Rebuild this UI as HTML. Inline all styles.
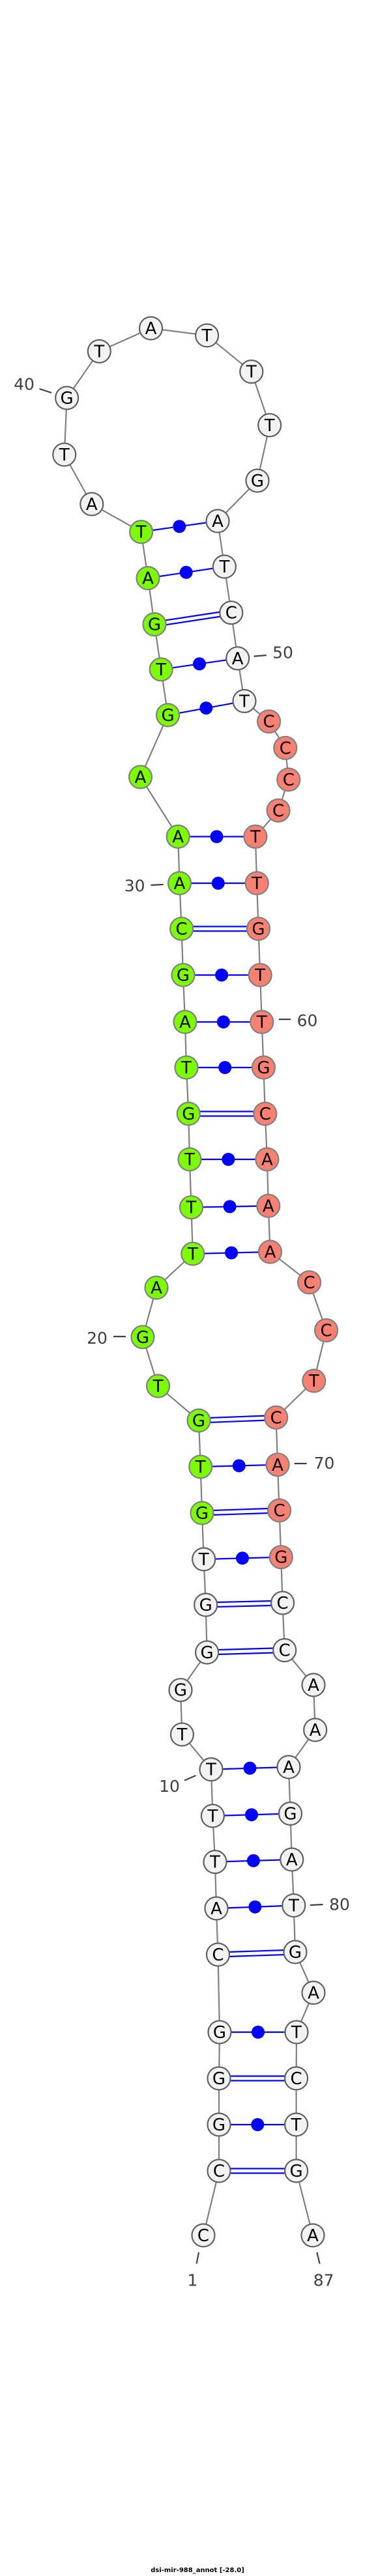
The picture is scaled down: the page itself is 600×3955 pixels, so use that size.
<!DOCTYPE html>
<html><head><meta charset="utf-8"><style>
html,body{margin:0;padding:0;background:#fff;}
svg{display:block;}
.n text{font-family:"DejaVu Sans","Liberation Sans",sans-serif;font-size:26px;text-anchor:middle;dominant-baseline:central;fill:#000;}
.lb{font-family:"DejaVu Sans","Liberation Sans",sans-serif;font-size:25px;fill:#404040;text-anchor:middle;dominant-baseline:central;}
</style></head><body>
<svg width="600" height="3955" viewBox="0 0 600 3955" xmlns="http://www.w3.org/2000/svg">
<polyline fill="none" stroke="#808080" stroke-width="2.2" points="312,3432 336,3333 336,3262 336,3191 337,3120 334.5,3001 332,2930 330,2858.6 326.4,2788 324,2716.6 279.4,2663 277,2594.7 317.6,2537 315.7,2464 312.7,2394 310,2323 307.7,2252 305,2181 242.6,2128 219,2052.8 240,1977 295.8,1925 293.5,1853.7 291,1780 289.3,1710 286,1639 284,1569 281,1497 278.6,1426 275.5,1356 273.2,1284.5 215.5,1193 257.6,1097.9 247.2,1027.8 237,958.6 227,887.6 216.6,816.6 140.8,774 98.7,698 102.6,611 152.3,539.4 231.5,504 317.6,515 385.8,570.6 413.7,652.8 395,738 334,800 344.4,870 354.8,940.7 364.7,1010.8 375,1076.4 412.6,1107.7 437.8,1148.3 442.8,1197 427.1,1244.3 391.9,1284.5 394.2,1356 396.5,1426 399.2,1497 401.8,1569 404.5,1639 406.8,1710 409.9,1780 411.8,1851.4 414.5,1922 474.6,1968.8 500.6,2042.5 481.8,2120 423.7,2176.4 426,2248.8 428.6,2319 431.3,2390.7 433.6,2461 436.7,2533.6 481,2587 483.7,2656 443,2713 445.5,2784.5 447.8,2855 450.8,2925.5 453,2997 481,3059.5 455,3120 454.6,3191 454.6,3262 454.6,3333 480,3432"/>
<g stroke="#0000ff" stroke-width="2.2" fill="none">
<!-- singles -->
<line x1="337" y1="3120" x2="455" y2="3120"/>
<line x1="336" y1="3262" x2="454.6" y2="3262"/>
<line x1="332" y1="2930" x2="450.8" y2="2925.5"/>
<line x1="330" y1="2858.6" x2="447.8" y2="2855"/>
<line x1="326.4" y1="2788" x2="445.5" y2="2784.5"/>
<line x1="324" y1="2716.6" x2="443" y2="2713"/>
<line x1="312.7" y1="2394" x2="431.3" y2="2390.7"/>
<line x1="307.7" y1="2252" x2="426" y2="2248.8"/>
<line x1="295.8" y1="1925" x2="414.5" y2="1922"/>
<line x1="293.5" y1="1853.7" x2="411.8" y2="1851.4"/>
<line x1="291" y1="1780" x2="409.9" y2="1780"/>
<line x1="286" y1="1639" x2="404.5" y2="1639"/>
<line x1="284" y1="1569" x2="401.8" y2="1569"/>
<line x1="281" y1="1497" x2="399.2" y2="1497"/>
<line x1="275.5" y1="1356" x2="394.2" y2="1356"/>
<line x1="273.2" y1="1284.5" x2="391.9" y2="1284.5"/>
<line x1="257.6" y1="1097.9" x2="375" y2="1076.4"/>
<line x1="247.2" y1="1027.8" x2="364.7" y2="1010.8"/>
<line x1="227" y1="887.6" x2="344.4" y2="870"/>
<line x1="216.6" y1="816.6" x2="334" y2="800"/>
<!-- doubles -->
<line x1="336" y1="3187.5" x2="454.6" y2="3187.5"/><line x1="336" y1="3194.5" x2="454.6" y2="3194.5"/>
<line x1="336" y1="3329.5" x2="454.6" y2="3329.5"/><line x1="336" y1="3336.5" x2="454.6" y2="3336.5"/>
<line x1="334.5" y1="2997.5" x2="453" y2="2993.5"/><line x1="334.5" y1="3004.5" x2="453" y2="3000.5"/>
<line x1="317.6" y1="2533.5" x2="436.7" y2="2530"/><line x1="317.6" y1="2540.5" x2="436.7" y2="2537"/>
<line x1="315.7" y1="2460.5" x2="433.6" y2="2457.5"/><line x1="315.7" y1="2467.5" x2="433.6" y2="2464.5"/>
<line x1="310" y1="2319.5" x2="428.6" y2="2315.5"/><line x1="310" y1="2326.5" x2="428.6" y2="2322.5"/>
<line x1="305" y1="2177.5" x2="423.7" y2="2173"/><line x1="305" y1="2184.5" x2="423.7" y2="2180"/>
<line x1="289.3" y1="1706.5" x2="406.8" y2="1706.5"/><line x1="289.3" y1="1713.5" x2="406.8" y2="1713.5"/>
<line x1="278.6" y1="1422.5" x2="396.5" y2="1422.5"/><line x1="278.6" y1="1429.5" x2="396.5" y2="1429.5"/>
<line x1="237" y1="955" x2="354.8" y2="937"/><line x1="237" y1="962" x2="354.8" y2="944"/>
</g>
<g fill="#0000ff">
<circle cx="396" cy="3120" r="10"/><circle cx="395.3" cy="3262" r="10"/>
<circle cx="391.4" cy="2927.7" r="10"/><circle cx="388.9" cy="2856.8" r="10"/>
<circle cx="386" cy="2786.2" r="10"/><circle cx="383.5" cy="2714.8" r="10"/>
<circle cx="372" cy="2392.3" r="10"/><circle cx="366.8" cy="2250.4" r="10"/>
<circle cx="355.1" cy="1923.5" r="10"/><circle cx="352.6" cy="1852.5" r="10"/>
<circle cx="350.4" cy="1780" r="10"/><circle cx="345.2" cy="1639" r="10"/>
<circle cx="342.9" cy="1569" r="10"/><circle cx="340.1" cy="1497" r="10"/>
<circle cx="334.8" cy="1356" r="10"/><circle cx="332.5" cy="1284.5" r="10"/>
<circle cx="316.3" cy="1087.1" r="10"/><circle cx="306" cy="1019.3" r="10"/>
<circle cx="285.7" cy="878.8" r="10"/><circle cx="275.3" cy="808.3" r="10"/>
</g>
<g class="n" stroke-width="2.2">
<g fill="#f2f2f2" stroke="#606060">
<circle cx="312" cy="3432" r="17.5"/><circle cx="336" cy="3333" r="17.5"/><circle cx="336" cy="3262" r="17.5"/><circle cx="336" cy="3191" r="17.5"/><circle cx="337" cy="3120" r="17.5"/><circle cx="334.5" cy="3001" r="17.5"/><circle cx="332" cy="2930" r="17.5"/><circle cx="330" cy="2858.6" r="17.5"/><circle cx="326.4" cy="2788" r="17.5"/><circle cx="324" cy="2716.6" r="17.5"/><circle cx="279.4" cy="2663" r="17.5"/><circle cx="277" cy="2594.7" r="17.5"/><circle cx="317.6" cy="2537" r="17.5"/><circle cx="315.7" cy="2464" r="17.5"/><circle cx="312.7" cy="2394" r="17.5"/>
<circle cx="140.8" cy="774" r="17.5"/><circle cx="98.7" cy="698" r="17.5"/><circle cx="102.6" cy="611" r="17.5"/><circle cx="152.3" cy="539.4" r="17.5"/><circle cx="231.5" cy="504" r="17.5"/><circle cx="317.6" cy="515" r="17.5"/><circle cx="385.8" cy="570.6" r="17.5"/><circle cx="413.7" cy="652.8" r="17.5"/><circle cx="395" cy="738" r="17.5"/><circle cx="334" cy="800" r="17.5"/><circle cx="344.4" cy="870" r="17.5"/><circle cx="354.8" cy="940.7" r="17.5"/><circle cx="364.7" cy="1010.8" r="17.5"/><circle cx="375" cy="1076.4" r="17.5"/>
<circle cx="433.6" cy="2461" r="17.5"/><circle cx="436.7" cy="2533.6" r="17.5"/><circle cx="481" cy="2587" r="17.5"/><circle cx="483.7" cy="2656" r="17.5"/><circle cx="443" cy="2713" r="17.5"/><circle cx="445.5" cy="2784.5" r="17.5"/><circle cx="447.8" cy="2855" r="17.5"/><circle cx="450.8" cy="2925.5" r="17.5"/><circle cx="453" cy="2997" r="17.5"/><circle cx="481" cy="3059.5" r="17.5"/><circle cx="455" cy="3120" r="17.5"/><circle cx="454.6" cy="3191" r="17.5"/><circle cx="454.6" cy="3262" r="17.5"/><circle cx="454.6" cy="3333" r="17.5"/><circle cx="480" cy="3432" r="17.5"/>
</g>
<g fill="#7cfc00" stroke="#808080">
<circle cx="310" cy="2323" r="17.5"/><circle cx="307.7" cy="2252" r="17.5"/><circle cx="305" cy="2181" r="17.5"/><circle cx="242.6" cy="2128" r="17.5"/><circle cx="219" cy="2052.8" r="17.5"/><circle cx="240" cy="1977" r="17.5"/><circle cx="295.8" cy="1925" r="17.5"/><circle cx="293.5" cy="1853.7" r="17.5"/><circle cx="291" cy="1780" r="17.5"/><circle cx="289.3" cy="1710" r="17.5"/><circle cx="286" cy="1639" r="17.5"/><circle cx="284" cy="1569" r="17.5"/><circle cx="281" cy="1497" r="17.5"/><circle cx="278.6" cy="1426" r="17.5"/><circle cx="275.5" cy="1356" r="17.5"/><circle cx="273.2" cy="1284.5" r="17.5"/><circle cx="215.5" cy="1193" r="17.5"/><circle cx="257.6" cy="1097.9" r="17.5"/><circle cx="247.2" cy="1027.8" r="17.5"/><circle cx="237" cy="958.6" r="17.5"/><circle cx="227" cy="887.6" r="17.5"/><circle cx="216.6" cy="816.6" r="17.5"/>
</g>
<g fill="#fa8072" stroke="#808080">
<circle cx="412.6" cy="1107.7" r="17.5"/><circle cx="437.8" cy="1148.3" r="17.5"/><circle cx="442.8" cy="1197" r="17.5"/><circle cx="427.1" cy="1244.3" r="17.5"/><circle cx="391.9" cy="1284.5" r="17.5"/><circle cx="394.2" cy="1356" r="17.5"/><circle cx="396.5" cy="1426" r="17.5"/><circle cx="399.2" cy="1497" r="17.5"/><circle cx="401.8" cy="1569" r="17.5"/><circle cx="404.5" cy="1639" r="17.5"/><circle cx="406.8" cy="1710" r="17.5"/><circle cx="409.9" cy="1780" r="17.5"/><circle cx="411.8" cy="1851.4" r="17.5"/><circle cx="414.5" cy="1922" r="17.5"/><circle cx="474.6" cy="1968.8" r="17.5"/><circle cx="500.6" cy="2042.5" r="17.5"/><circle cx="481.8" cy="2120" r="17.5"/><circle cx="423.7" cy="2176.4" r="17.5"/><circle cx="426" cy="2248.8" r="17.5"/><circle cx="428.6" cy="2319" r="17.5"/><circle cx="431.3" cy="2390.7" r="17.5"/>
</g>
<text x="312" y="3433">C</text><text x="336" y="3334">C</text><text x="336" y="3263">G</text><text x="336" y="3192">G</text><text x="337" y="3121">G</text><text x="334.5" y="3002">C</text><text x="332" y="2931">A</text><text x="330" y="2859.6">T</text><text x="326.4" y="2789">T</text><text x="324" y="2717.6">T</text><text x="279.4" y="2664">T</text><text x="277" y="2595.7">G</text><text x="317.6" y="2538">G</text><text x="315.7" y="2465">G</text><text x="312.7" y="2395">T</text>
<text x="310" y="2324">G</text><text x="307.7" y="2253">T</text><text x="305" y="2182">G</text><text x="242.6" y="2129">T</text><text x="219" y="2053.8">G</text><text x="240" y="1978">A</text><text x="295.8" y="1926">T</text><text x="293.5" y="1854.7">T</text><text x="291" y="1781">T</text><text x="289.3" y="1711">G</text><text x="286" y="1640">T</text><text x="284" y="1570">A</text><text x="281" y="1498">G</text><text x="278.6" y="1427">C</text><text x="275.5" y="1357">A</text><text x="273.2" y="1285.5">A</text><text x="215.5" y="1194">A</text><text x="257.6" y="1098.9">G</text><text x="247.2" y="1028.8">T</text><text x="237" y="959.6">G</text><text x="227" y="888.6">A</text><text x="216.6" y="817.6">T</text>
<text x="140.8" y="775">A</text><text x="98.7" y="699">T</text><text x="102.6" y="612">G</text><text x="152.3" y="540.4">T</text><text x="231.5" y="505">A</text><text x="317.6" y="516">T</text><text x="385.8" y="571.6">T</text><text x="413.7" y="653.8">T</text><text x="395" y="739">G</text><text x="334" y="801">A</text><text x="344.4" y="871">T</text><text x="354.8" y="941.7">C</text><text x="364.7" y="1011.8">A</text><text x="375" y="1077.4">T</text>
<text x="412.6" y="1108.7">C</text><text x="437.8" y="1149.3">C</text><text x="442.8" y="1198">C</text><text x="427.1" y="1245.3">C</text><text x="391.9" y="1285.5">T</text><text x="394.2" y="1357">T</text><text x="396.5" y="1427">G</text><text x="399.2" y="1498">T</text><text x="401.8" y="1570">T</text><text x="404.5" y="1640">G</text><text x="406.8" y="1711">C</text><text x="409.9" y="1781">A</text><text x="411.8" y="1852.4">A</text><text x="414.5" y="1923">A</text><text x="474.6" y="1969.8">C</text><text x="500.6" y="2043.5">C</text><text x="481.8" y="2121">T</text><text x="423.7" y="2177.4">C</text><text x="426" y="2249.8">A</text><text x="428.6" y="2320">C</text><text x="431.3" y="2391.7">G</text>
<text x="433.6" y="2462">C</text><text x="436.7" y="2534.6">C</text><text x="481" y="2588">A</text><text x="483.7" y="2657">A</text><text x="443" y="2714">A</text><text x="445.5" y="2785.5">G</text><text x="447.8" y="2856">A</text><text x="450.8" y="2926.5">T</text><text x="453" y="2998">G</text><text x="481" y="3060.5">A</text><text x="455" y="3121">T</text><text x="454.6" y="3192">C</text><text x="454.6" y="3263">T</text><text x="454.6" y="3334">G</text><text x="480" y="3433">A</text>
</g>
<g stroke="#404040" stroke-width="2.2">
<line x1="60.5" y1="597" x2="79" y2="603"/>
<line x1="389.6" y1="1007.6" x2="408.7" y2="1006"/>
<line x1="231.5" y1="1359" x2="250.7" y2="1358"/>
<line x1="428" y1="1565" x2="446" y2="1565"/>
<line x1="174" y1="2052" x2="193" y2="2052"/>
<line x1="451.6" y1="2247" x2="470.7" y2="2247"/>
<line x1="283" y1="2733.6" x2="300.4" y2="2726"/>
<line x1="475.7" y1="2925" x2="495.6" y2="2924"/>
<line x1="305" y1="3458" x2="301.6" y2="3475.6"/>
<line x1="486.4" y1="3458" x2="490.6" y2="3475.6"/>
</g>
<text class="lb" x="37" y="590">40</text>
<text class="lb" x="434" y="1002">50</text>
<text class="lb" x="206.7" y="1360">30</text>
<text class="lb" x="471.5" y="1567">60</text>
<text class="lb" x="149" y="2054.5">20</text>
<text class="lb" x="497.5" y="2246.5">70</text>
<text class="lb" x="260" y="2742.5">10</text>
<text class="lb" x="521" y="2924">80</text>
<text class="lb" x="295.5" y="3501">1</text>
<text class="lb" x="496.7" y="3501">87</text>
<text x="303" y="3949" font-family="DejaVu Sans, Liberation Sans, sans-serif" font-size="10" font-weight="bold" text-anchor="middle" fill="#000">dsi-mir-988_annot [-28.0]</text>
</svg>
</body></html>
